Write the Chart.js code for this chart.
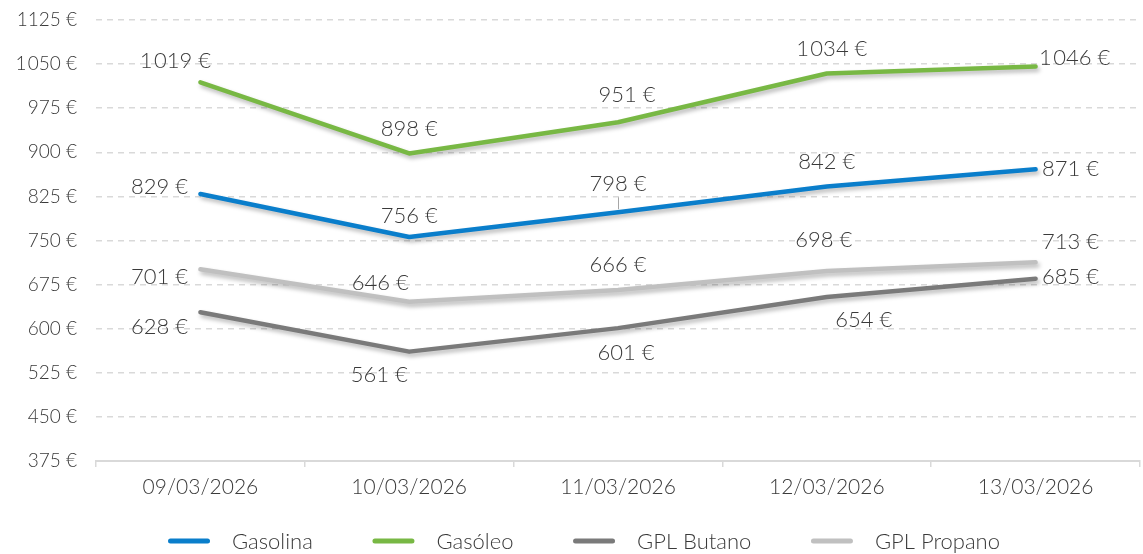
<!DOCTYPE html>
<html>
<head>
<meta charset="utf-8">
<script src="https://cdn.jsdelivr.net/npm/chart.js@4.4.1/dist/chart.umd.min.js"></script>
<style>
html,body{margin:0;padding:0;background:#fff;}
#wrap{width:1143px;height:554px;position:relative;}
</style>
</head>
<body>
<div id="wrap"><canvas id="c"></canvas></div>
<script>
const categories = ["09/03/2026", "10/03/2026", "11/03/2026", "12/03/2026", "13/03/2026"];
const gasolina = [829, 756, 798, 842, 871];
const gasoleo = [1019, 898, 951, 1034, 1046];
const gplButano = [628, 561, 601, 654, 685];
const gplPropano = [701, 646, 666, 698, 713];
const yTicks = [375, 450, 525, 600, 675, 750, 825, 900, 975, 1050, 1125];
const yTickLabels = ["375 €", "450 €", "525 €", "600 €", "675 €", "750 €", "825 €", "900 €", "975 €", "1\u200A050 €", "1125 €"];

function fmt(v){
  const s = String(v);
  return (s.length > 3 ? s.slice(0, s.length-3) + "\u200A" + s.slice(-3) : s) + " €";
}

const FAM = "Lato, 'Open Sans', sans-serif";
const TEXT = "#3a3a3a";

// label offsets (text centre relative to point), per dataset
const labelOffsets = [
  [[-41,-7],[0,-21],[0,-28],[0,-24],[35,0]],
  [[-25,-21],[0,-25],[9,-27],[5,-25],[39,-9]],
  [[-41,15],[-30,23],[8,25],[37,23],[35,-2]],
  [[-41,8],[-29,-19],[0,-25],[-3,-31],[35,-20]]
];

const shadowPlugin = {
  id: 'shadow',
  beforeDatasetDraw(chart){
    const ctx = chart.ctx;
    ctx.save();
    ctx.shadowColor = 'rgba(0,0,0,0.28)';
    ctx.shadowBlur = 4;
    ctx.shadowOffsetX = 2;
    ctx.shadowOffsetY = 3;
  },
  afterDatasetDraw(chart){
    chart.ctx.restore();
  }
};

const labelPlugin = {
  id: 'dlabels',
  afterDatasetsDraw(chart){
    const ctx = chart.ctx;
    ctx.save();
    ctx.font = "300 22px " + FAM;
    ctx.fillStyle = TEXT;
    ctx.textAlign = 'center';
    ctx.textBaseline = 'middle';
    chart.data.datasets.forEach((ds, di) => {
      const meta = chart.getDatasetMeta(di);
      meta.data.forEach((pt, i) => {
        const off = labelOffsets[di][i];
        const x = pt.x + off[0], y = pt.y + off[1];
        if (di === 0 && i === 2) {
          ctx.save();
          ctx.strokeStyle = '#a6a6a6';
          ctx.lineWidth = 1;
          ctx.beginPath();
          ctx.moveTo(Math.round(pt.x)+0.5, y + 13);
          ctx.lineTo(Math.round(pt.x)+0.5, pt.y - 3);
          ctx.stroke();
          ctx.restore();
        }
        ctx.fillText(fmt(ds.data[i]), x, y);
      });
    });
    ctx.restore();
  }
};

const legendPlugin = {
  id: 'customLegend',
  afterDraw(chart){
    const ctx = chart.ctx;
    ctx.save();
    ctx.font = "300 22px " + FAM;
    ctx.textBaseline = 'middle';
    ctx.textAlign = 'left';
    const box = 42, gapText = 22, y = 541, startX = 168, endX = 1000;
    const items = chart.data.datasets.map(ds => ({ label: ds.label, color: ds.borderColor, w: ctx.measureText(ds.label).width }));
    let used = 0;
    items.forEach(it => { used += box + gapText + it.w; });
    const gapItem = (endX - startX - used) / (items.length - 1);
    let x = startX;
    items.forEach(it => {
      ctx.strokeStyle = it.color;
      ctx.lineWidth = 5;
      ctx.lineCap = 'round';
      ctx.beginPath();
      ctx.moveTo(x + 2.5, y);
      ctx.lineTo(x + box - 2.5, y);
      ctx.stroke();
      ctx.fillStyle = TEXT;
      ctx.fillText(it.label, x + box + gapText, y + 1);
      x += box + gapText + it.w + gapItem;
    });
    ctx.restore();
  }
};

function mkDs(label, data, color){
  return {
    label, data,
    borderColor: color,
    backgroundColor: color,
    borderWidth: 4.5,
    borderCapStyle: 'round',
    borderJoinStyle: 'round',
    pointRadius: 0,
    pointHoverRadius: 0,
    tension: 0,
    fill: false
  };
}

new Chart(document.getElementById('c'), {
  type: 'line',
  data: {
    labels: categories,
    datasets: [
      mkDs('Gasolina', gasolina, '#0a7ecb'),
      mkDs('Gasóleo', gasoleo, '#78b844'),
      mkDs('GPL Butano', gplButano, '#7a7a7a'),
      mkDs('GPL Propano', gplPropano, '#c0c0c0')
    ]
  },
  options: {
    responsive: true,
    maintainAspectRatio: false,
    animation: false,
    layout: { padding: { top: 20, right: 3, left: 0, bottom: 45 } },
    plugins: {
      tooltip: { enabled: false },
      legend: { display: false }
    },
    scales: {
      x: {
        offset: true,
        grid: { display: true, drawOnChartArea: false, drawTicks: true, tickLength: 6, color: '#d9d9d9', lineWidth: 1.5, offset: true },
        border: { display: true, color: '#d9d9d9', width: 2 },
        ticks: { font: { family: FAM, size: 21, weight: 300 }, color: TEXT, padding: 8, maxRotation: 0 },
        afterFit(scale){ scale.height = 48; scale.paddingLeft = 0; scale.paddingRight = 0; }
      },
      y: {
        min: 375, max: 1125,
        afterBuildTicks(scale){ scale.ticks = yTicks.map(v => ({ value: v })); },
        grid: { color: '#d9d9d9', lineWidth: 1.5, drawTicks: false },
        border: { display: false, dash: [6,5] },
        ticks: {
          font: { family: FAM, size: 19, weight: 300 }, color: TEXT, padding: 19,
          callback(value){ const k = yTicks.indexOf(value); return k >= 0 ? yTickLabels[k] : ''; }
        },
        afterFit(scale){ scale.width = 96; scale.paddingTop = 0; scale.paddingBottom = 0; }
      }
    }
  },
  plugins: [shadowPlugin, labelPlugin, legendPlugin]
});
</script>
</body>
</html>
